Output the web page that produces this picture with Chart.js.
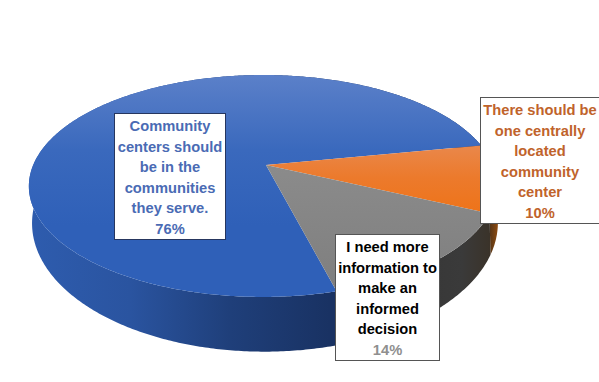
<!DOCTYPE html>
<html>
<head>
<meta charset="utf-8">
<style>
  html, body { margin: 0; padding: 0; background: #fff; }
  #wrap { position: relative; width: 599px; height: 382px; overflow: hidden; }
  canvas { position: absolute; left: 0; top: 0; }
  .tag {
    position: absolute; box-sizing: border-box; background: #fff;
    border: 1px solid #4a4a4a; text-align: center;
    font: bold 14.7px/20.6px "Liberation Sans", Arial, sans-serif;
    padding-top: 2px; white-space: nowrap;
  }
</style>
</head>
<body>
<div id="wrap">
  <canvas id="pie" width="599" height="382"></canvas>
</div>
<script src="https://cdn.jsdelivr.net/npm/chart.js@4/dist/chart.umd.min.js"></script>
<script>
const categories = [
  ['Community', 'centers should', 'be in the', 'communities', 'they serve.'],
  ['There should be', 'one centrally', 'located', 'community', 'center'],
  ['I need more', 'information to', 'make an', 'informed', 'decision']
];
const shares = [76, 10, 14];
const tagColors = ['#4a6bb4', '#c0632b', '#000000'];
const pctColors = ['#4a6bb4', '#c0632b', '#8f8f8f'];
const tagBorders = ['#26365f', '#555555', '#555555'];
const tagBoxes = [
  { left: 114, top: 113, width: 112, height: 127 },
  { left: 480, top: 97, width: 120, height: 127 },
  { left: 335, top: 234, width: 105, height: 127 }
];

// perspective of the disc, pie centre sits above the middle of the ellipse
const TILT = 0.189;
const LEAN = -0.0128;
const STRETCH = 2.148;
const LOWER = { sx: 0.995, sy: 1.16, dx: 2, dy: 33.6 };

function project(arc, t, lower) {
  const c = Math.cos(t), s = Math.sin(t), r = arc.outerRadius;
  const w = 1 - TILT * s - LEAN * c;
  const x = r * STRETCH * c / w, y = r * s / w;
  if (!lower) return [arc.x + x, arc.y + y];
  return [arc.x + LOWER.dx + x * LOWER.sx, arc.y + LOWER.dy + y * LOWER.sy];
}

function edge(ctx, arc, from, to, lower) {
  const n = Math.ceil(Math.abs(to - from) / 0.01);
  for (let i = 0; i <= n; i++) {
    const p = project(arc, from + (to - from) * i / n, lower);
    ctx.lineTo(p[0], p[1]);
  }
}

function hGrad(ctx, x0, x1, stops) {
  const g = ctx.createLinearGradient(x0, 0, x1, 0);
  stops.forEach((c, i) => g.addColorStop(i / (stops.length - 1), c));
  return g;
}
function vGrad(ctx, y0, y1, stops) {
  const g = ctx.createLinearGradient(0, y0, 0, y1);
  stops.forEach((c, i) => g.addColorStop(i / (stops.length - 1), c));
  return g;
}

const disc3d = {
  id: 'disc3d',
  beforeDatasetsDraw(chart) {
    const ctx = chart.ctx;
    const arcs = chart.getDatasetMeta(0).data;
    const walls = [
      hGrad(ctx, 30, 330, ['#2e5cae', '#2a54a0', '#1f3f7a', '#193263']),
      hGrad(ctx, 488, 498, ['#4a3018', '#8f4c10']),
      hGrad(ctx, 340, 492, ['#303030', '#343434', '#363636', '#383838', '#3a3a3a', '#3a3228'])
    ];
    const faces = [
      vGrad(ctx, 75, 300, ['#5b80c9', '#3a69bd', '#2f60b8', '#2f60b8']),
      vGrad(ctx, 140, 215, ['#e98a50', '#ec7a2c', '#ee7318']),
      vGrad(ctx, 165, 285, ['#8b8b8b', '#7f7f7f'])
    ];

    arcs.forEach((arc, i) => {
      ctx.beginPath();
      edge(ctx, arc, arc.startAngle, arc.endAngle, false);
      edge(ctx, arc, arc.endAngle, arc.startAngle, true);
      ctx.closePath();
      ctx.fillStyle = walls[i];
      ctx.fill();
    });
    arcs.forEach((arc, i) => {
      ctx.beginPath();
      ctx.moveTo(arc.x, arc.y);
      edge(ctx, arc, arc.startAngle, arc.endAngle, false);
      ctx.closePath();
      ctx.fillStyle = faces[i];
      ctx.fill();
    });
    return false;
  }
};

new Chart(document.getElementById('pie'), {
  type: 'pie',
  data: {
    labels: categories,
    datasets: [{ data: shares, radius: 107, borderWidth: 0, backgroundColor: ['#2f60b8', '#ee7318', '#7f7f7f'] }]
  },
  options: {
    responsive: false,
    animation: false,
    rotation: 165.4,
    layout: { padding: { left: 0, top: 0, right: 67, bottom: 52 } },
    plugins: { legend: { display: false }, tooltip: { enabled: false } }
  },
  plugins: [disc3d]
});

// the boxed labels
const wrap = document.getElementById('wrap');
categories.forEach((lines, i) => {
  const b = tagBoxes[i];
  const el = document.createElement('div');
  el.className = 'tag';
  el.style.left = b.left + 'px';
  el.style.top = b.top + 'px';
  el.style.width = b.width + 'px';
  el.style.height = b.height + 'px';
  el.style.color = tagColors[i];
  el.style.borderColor = tagBorders[i];
  lines.forEach(t => {
    const d = document.createElement('div');
    d.textContent = t;
    el.appendChild(d);
  });
  const p = document.createElement('div');
  p.textContent = shares[i] + '%';
  p.style.color = pctColors[i];
  el.appendChild(p);
  wrap.appendChild(el);
});
</script>
</body>
</html>
